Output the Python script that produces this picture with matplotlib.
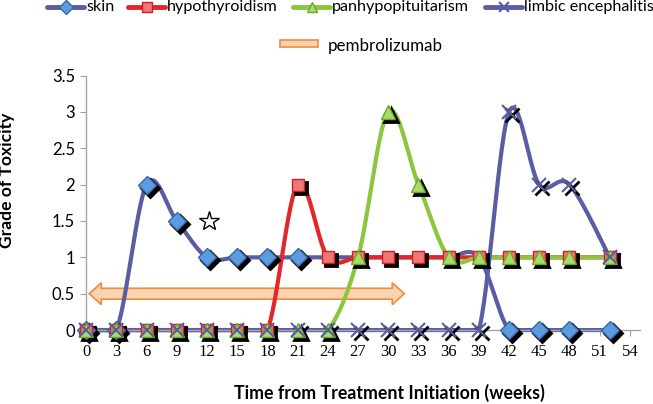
import numpy as np
import matplotlib.pyplot as plt
import matplotlib.transforms as mtransforms
from matplotlib.lines import Line2D
from matplotlib.patches import Polygon, Rectangle

# data (weeks, grade)
weeks = [0, 3, 6, 9, 12, 15, 18, 21, 24, 27, 30, 33, 36, 39, 42, 45, 48, 52]
skin = [0, 0, 2, 1.5, 1, 1, 1, 1, 1, 1, 1, 1, 1, 1, 0, 0, 0, 0]
skin_marked = [True] * 8 + [False] * 6 + [True] * 4
hypothyroidism = [0, 0, 0, 0, 0, 0, 0, 2, 1, 1, 1, 1, 1, 1, 1, 1, 1, 1]
panhypopituitarism = [0, 0, 0, 0, 0, 0, 0, 0, 0, 1, 3, 2, 1, 1, 1, 1, 1, 1]
limbic = [0, 0, 0, 0, 0, 0, 0, 0, 0, 0, 0, 0, 0, 0, 3, 2, 2, 1]
pembro_start, pembro_end, pembro_level = 0.3, 31.6, 0.5
star_pt = (12.2, 1.5)
xticks = list(range(0, 55, 3))
yticks = [0, 0.5, 1, 1.5, 2, 2.5, 3, 3.5]

W, H = 653, 404


def smooth(x, y, n=30):
    # catmull-rom curve through the points, like Excel's smoothed line
    x = np.asarray(x, float)
    y = np.asarray(y, float)
    px = np.concatenate([[x[0]], x, [x[-1]]])
    py = np.concatenate([[y[0]], y, [y[-1]]])
    xs, ys = [], []
    t = np.linspace(0, 1, n)
    for i in range(1, len(px) - 2):
        for p, out in ((px, xs), (py, ys)):
            p0, p1, p2, p3 = p[i - 1], p[i], p[i + 1], p[i + 2]
            out.extend(0.5 * (2 * p1 + (-p0 + p2) * t
                              + (2 * p0 - 5 * p1 + 4 * p2 - p3) * t ** 2
                              + (-p0 + 3 * p1 - 3 * p2 + p3) * t ** 3))
    return np.array(xs), np.maximum(np.array(ys), 0)


fig = plt.figure(figsize=(W / 100, H / 100), dpi=100)
ax = fig.add_axes([0.132, 0.183, 0.848, 0.630])
shadow = mtransforms.offset_copy(ax.transData, fig, x=3, y=-3, units='dots')

series = [
    (skin, '#5B5DA3', 'D', '#5B9BE0', '#3A66A8', 9, 'skin', 47),
    (hypothyroidism, '#E3262A', 's', '#EE7777', '#D02020', 9, 'hypothyroidism', 128),
    (panhypopituitarism, '#8CC63F', '^', '#A8DB6A', '#6FA72A', 10, 'panhypopituitarism', 293),
    (limbic, '#5B5DA3', 'x', '#5B5DA3', '#5B5DA3', 10, 'limbic encephalitis', 485),
]

for vals, lc, mk, mfc, mec, ms, name, lx in series:
    sx, sy = smooth(weeks, vals)
    ax.plot(sx, sy, color=lc, lw=3, zorder=2, clip_on=False)
    wx, wy = np.array(weeks), np.array(vals)
    if name == 'skin':
        wx, wy = wx[skin_marked], wy[skin_marked]
    ax.plot(wx, wy, ls='none', marker=mk, ms=ms, color='black', mew=2,
            transform=shadow, zorder=3, clip_on=False)
    ax.plot(wx, wy, ls='none', marker=mk, ms=ms, mfc=mfc, mec=mec,
            mew=1 if mk != 'x' else 1.5, zorder=4, clip_on=False)
    # legend entry: line with marker, then name
    ly = 1 - 7 / H
    fig.add_artist(Line2D([lx / W, (lx + 37) / W], [ly, ly], color=lc, lw=3.5,
                          solid_capstyle='round'))
    fig.add_artist(Line2D([(lx + 18.5) / W], [ly], ls='none', marker=mk, ms=7,
                          mfc=mfc, mec=mec, mew=1 if mk != 'x' else 1.5))
    fig.text((lx + 39) / W, ly, name, family='Lato', fontsize=11.6,
             ha='left', va='center')

# pembrolizumab double arrow
hw, bw, hl = 0.15, 0.075, 1.2
y0 = pembro_level
arrow = Polygon([(pembro_start, y0), (pembro_start + hl, y0 + hw),
                 (pembro_start + hl, y0 + bw), (pembro_end - hl, y0 + bw),
                 (pembro_end - hl, y0 + hw), (pembro_end, y0),
                 (pembro_end - hl, y0 - hw), (pembro_end - hl, y0 - bw),
                 (pembro_start + hl, y0 - bw), (pembro_start + hl, y0 - hw)],
                closed=True, fc='#FCD3B0', ec='#F08B3C', lw=1.2, zorder=1)
ax.add_patch(arrow)

fig.add_artist(Rectangle((280 / W, 1 - 47 / H), 38 / W, 7 / H,
                         fc='#FCD3B0', ec='#F08B3C', lw=1.2))
fig.text(328 / W, 1 - 46 / H, 'pembrolizumab', family='Lato', fontsize=12.2,
         ha='left', va='center')

ax.plot(*star_pt, marker='*', ms=15, mfc='white', mec='black', mew=1, ls='none', zorder=5)

ax.set_xlim(0, 55)
ax.set_ylim(0, 3.5)
ax.set_xticks(xticks)
ax.set_yticks(yticks)
ax.set_yticklabels(['0', '0.5', '1', '1.5', '2', '2.5', '3', '3.5'])
for lab in ax.get_xticklabels():
    lab.set_family('Liberation Serif')
    lab.set_fontsize(12)
for lab in ax.get_yticklabels():
    lab.set_family('Lato')
    lab.set_fontsize(12)
ax.tick_params(axis='x', length=4, color='#A0A0A0', pad=6)
ax.tick_params(axis='y', length=4, color='#A0A0A0', pad=4)
for s in ['top', 'right']:
    ax.spines[s].set_visible(False)
for s in ['left', 'bottom']:
    ax.spines[s].set_color('#A6A6A6')
    ax.spines[s].set_linewidth(1)

ax.set_ylabel('Grade of Toxicity', fontsize=12.6, fontweight='bold', family='Lato')
ax.yaxis.set_label_coords(-0.128, 0.59)
ax.set_xlabel('Time from Treatment Initiation (weeks)', fontsize=12.8,
              fontweight='bold', family='Lato')
ax.xaxis.set_label_coords(0.547, -0.213)

fig.savefig('out.png', dpi=100)
